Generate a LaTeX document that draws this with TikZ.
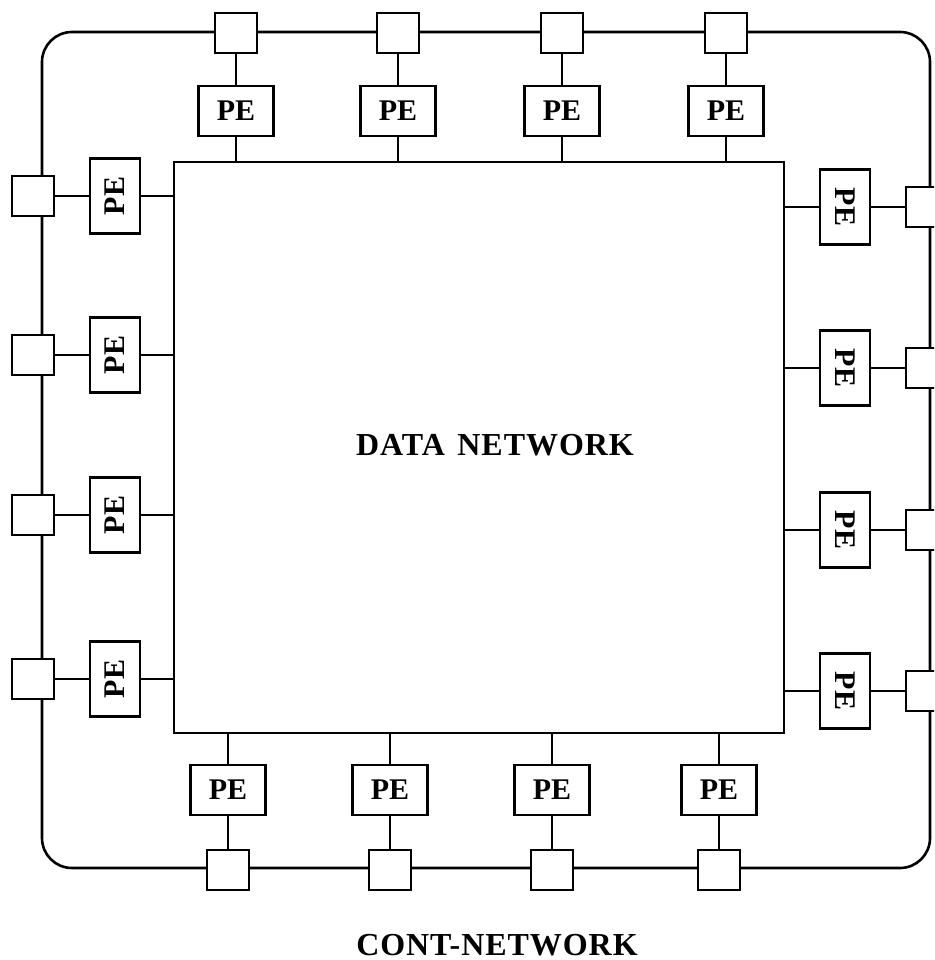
\documentclass[tikz,border=0pt]{standalone}
\usepackage{fontspec}
\setmainfont{Liberation Serif}
\newfontfamily\lblfont[LetterSpace=3,WordSpace=1.4]{Liberation Serif}
\begin{document}
\begin{tikzpicture}[x=1pt,y=-1pt,
  line width=2.6pt,
  pebox/.style={draw,fill=white,minimum width=75pt,minimum height=50pt,inner sep=0pt,font=\fontsize{30}{30}\selectfont\bfseries},
  sqbox/.style={draw,fill=white,minimum width=42pt,minimum height=40pt,inner sep=0pt},
  lbl/.style={inner sep=0pt,text depth=0pt,anchor=base,font=\lblfont\fontsize{32}{32}\selectfont\bfseries}]
\clip (0,0) rectangle (934,960);
\useasboundingbox (0,0) rectangle (934,960);
% outer control network ring
\draw[rounded corners=30pt] (42,32) rectangle (930,868);
% data network
\node[draw,fill=white,minimum width=610pt,minimum height=571pt,inner sep=0pt] (dn) at (479,447.5) {};
\node[lbl] (dnl) at (495,455) {DATA NETWORK};
% top
\foreach \i/\x in {1/236,2/398,3/562,4/726}{
  \node[sqbox] (ts\i) at (\x,33) {};
  \node[pebox] (tp\i) at (\x,111) {PE};
  \draw (ts\i) -- (tp\i) -- (tp\i |- dn.north);
}
% bottom
\foreach \i/\x in {1/228,2/390,3/552,4/719}{
  \node[sqbox] (bs\i) at (\x,870) {};
  \node[pebox] (bp\i) at (\x,790) {PE};
  \draw (bs\i) -- (bp\i) -- (bp\i |- dn.south);
}
% left
\foreach \i/\y in {1/196,2/355,3/515,4/679}{
  \node[sqbox] (ls\i) at (33,\y) {};
  \node[pebox,rotate=90] (lp\i) at (115,\y) {PE};
  \draw (ls\i) -- (lp\i) -- (lp\i -| dn.west);
}
% right
\foreach \i/\y in {1/207,2/368,3/530,4/691}{
  \node[sqbox] (rs\i) at (927,\y) {};
  \node[pebox,rotate=-90] (rp\i) at (845,\y) {PE};
  \draw (rs\i) -- (rp\i) -- (rp\i -| dn.east);
}
\node[lbl] (cn) at (497,955) {CONT-NETWORK};
\end{tikzpicture}
\end{document}
